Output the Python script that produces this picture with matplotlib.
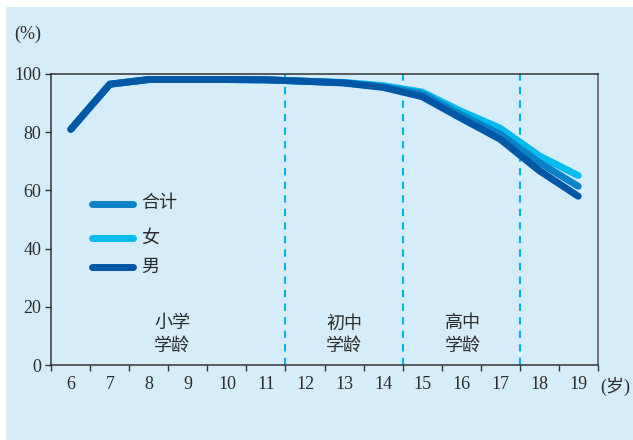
import matplotlib
matplotlib.use("Agg")
import matplotlib.pyplot as plt
from matplotlib.patches import Rectangle

# ---------------------------------------------------------------- data
ages = [6, 7, 8, 9, 10, 11, 12, 13, 14, 15, 16, 17, 18, 19]
total = [81.0, 96.5, 98.1, 98.1, 98.1, 98.0, 97.5, 97.0, 95.6, 93.2, 86.0, 79.3, 69.6, 61.4]
female = [81.0, 96.5, 98.1, 98.1, 98.1, 98.0, 97.5, 97.1, 96.0, 93.8, 87.2, 81.4, 71.9, 65.1]
male = [81.0, 96.5, 98.1, 98.1, 98.1, 98.0, 97.5, 96.9, 95.4, 92.2, 84.8, 77.6, 66.8, 58.0]
stage_bounds = [11.5, 14.5, 17.5]
stage_labels = ["小学\n学龄", "初中\n学龄", "高中\n学龄"]
stage_x = [8.6, 13.0, 16.05]

C_TOTAL = "#0A82C8"
C_FEMALE = "#00BBEE"
C_MALE = "#0057A6"
BG = "#D5EDF9"
TXT = "#2B2B2B"
FS = 13
plt.rcParams["font.family"] = ["Liberation Serif", "Noto Sans CJK SC"]

fig = plt.figure(figsize=(6.33, 4.40), dpi=100, facecolor="white")
fig.patches.append(Rectangle((6 / 633, 0), 1, 433 / 440, transform=fig.transFigure,
                             facecolor=BG, edgecolor="none", zorder=-10))
ax = fig.add_axes([51.3 / 633, 75 / 440, (597.7 - 51.3) / 633, (365 - 74) / 440])
ax.set_facecolor(BG)

for x in stage_bounds:
    ax.axvline(x, color="#00B4EA", lw=1.5, ls=(0, (3.5, 3)), zorder=1)

ax.plot(ages, female, color=C_FEMALE, lw=5, solid_capstyle="round", solid_joinstyle="round", zorder=3)
ax.plot(ages, total, color=C_TOTAL, lw=5, solid_capstyle="round", solid_joinstyle="round", zorder=4)
ax.plot(ages, male, color=C_MALE, lw=5, solid_capstyle="round", solid_joinstyle="round", zorder=5)

ax.set_xlim(5.5, 19.5)
ax.set_ylim(0, 100)
ax.set_xticks([a - 0.5 for a in ages] + [19.5])
ax.set_xticklabels([])
ax.set_xticks(ages, minor=True)
ax.set_xticklabels([str(a) for a in ages], minor=True)
ax.tick_params(axis="x", which="major", direction="out", length=4, width=1, color="#333333")
ax.tick_params(axis="x", which="minor", length=0, pad=8, labelsize=FS, labelcolor=TXT)
ax.set_yticks([0, 20, 40, 60, 80, 100])
ax.tick_params(axis="y", direction="out", length=4, width=1, color="#333333",
               labelsize=FS, labelcolor=TXT, pad=3)
for s in ax.spines.values():
    s.set_color("#333333")
    s.set_linewidth(1.1)
ax.spines["right"].set_color("#555555")

ax.text(-0.067, 1.135, "(%)", transform=ax.transAxes, fontsize=FS, color=TXT,
        ha="left", va="center")
ax.text(1.004, -0.073, "(岁)", transform=ax.transAxes, fontsize=FS, color=TXT,
        ha="left", va="center")

for x, lab in zip(stage_x, stage_labels):
    ax.text(x, 10.3, lab, ha="center", va="center", fontsize=FS, color=TXT,
            linespacing=1.4)

# legend drawn by hand
legend_items = [("合计", C_TOTAL, 55.4), ("女", C_FEMALE, 43.7), ("男", C_MALE, 33.6)]
for lab, col, y in legend_items:
    ax.plot([6.55, 7.6], [y, y], color=col, lw=5, solid_capstyle="round")
    ax.text(7.8, y, lab, ha="left", va="center", fontsize=FS, color=TXT)

plt.savefig("out.png", dpi=100, facecolor=fig.get_facecolor())
